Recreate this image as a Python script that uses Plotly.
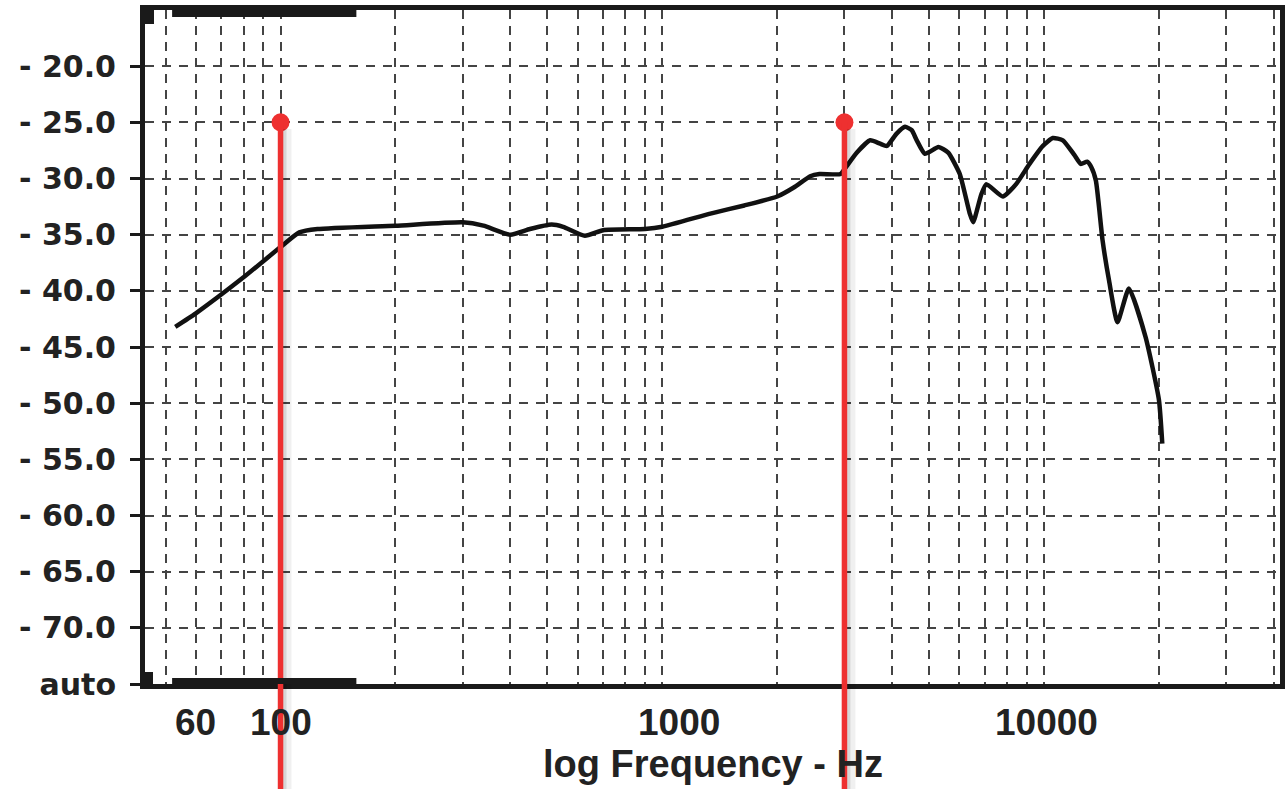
import math
import plotly.graph_objects as go

# ---------------- data ----------------
freq_hz = [53, 60, 80, 100, 112, 125, 200, 300, 340, 400, 450, 513, 550, 627, 700,
           900, 1000, 1345, 1640, 2000, 2210, 2440, 2580, 2930, 3010, 3230, 3505,
           3720, 3875, 4110, 4325, 4500, 4640, 4875, 5290, 5610, 6015, 6385, 6520,
           6850, 7060, 7800, 8450, 9160, 9930, 10540, 11200, 12000, 12480, 12970,
           13300, 13670, 14230, 14800, 15570, 16680, 18440, 19990, 20400]
level_db = [-43.2, -42.0, -38.8, -36.1, -34.8, -34.5, -34.2, -33.9, -34.2, -35.0,
            -34.5, -34.1, -34.3, -35.1, -34.6, -34.5, -34.3, -33.1, -32.4, -31.6,
            -30.8, -29.8, -29.6, -29.6, -29.1, -27.7, -26.6, -26.9, -27.1, -26.0,
            -25.4, -25.7, -26.6, -27.8, -27.2, -27.7, -29.6, -33.1, -33.9, -31.4,
            -30.5, -31.6, -30.5, -28.7, -27.1, -26.4, -26.6, -27.9, -28.7, -28.5,
            -29.0, -30.2, -35.5, -39.1, -42.8, -39.8, -44.1, -49.7, -53.6]

cursor_freqs = [100, 3000]
cursor_level = [-25, -25]

x_grid = [50, 60, 70, 80, 90, 100, 200, 300, 400, 500, 600, 700, 800, 900,
          1000, 2000, 3000, 4000, 5000, 6000, 7000, 8000, 9000, 10000,
          20000, 30000, 40000]
x_label_freqs = [60, 100, 1000, 10000]
x_label_text = ["60", "100", "1000", "10000"]

y_ticks = [-75, -70, -65, -60, -55, -50, -45, -40, -35, -30, -25, -20]
y_labels = ["auto", "- 70.0", "- 65.0", "- 60.0", "- 55.0", "- 50.0", "- 45.0",
            "- 40.0", "- 35.0", "- 30.0", "- 25.0", "- 20.0"]

x_title = "log Frequency - Hz"

# deco bar frequency span (top/bottom markers)
deco_span = [52, 158]

# ---------------- style constants ----------------
Y_RANGE = [-75, -15]
X_RANGE = [1.645, 4.618]
RED = "#ee3030"
FRAME = "#1a1a1a"
GRID = "#444444"
TEXT = "#222222"
ARIAL = "Liberation Sans, Arial, sans-serif"
LABEL_XSHIFT = {"60": 0, "100": 0, "1000": 17, "10000": 2}

fig = go.Figure()

fig.add_trace(go.Scatter(
    x=freq_hz, y=level_db, mode="lines",
    line=dict(color="#111111", width=4.5, shape="spline", smoothing=0.5),
    hoverinfo="skip", showlegend=False,
))

# cursor dots
fig.add_trace(go.Scatter(
    x=cursor_freqs, y=cursor_level, mode="markers",
    marker=dict(color=RED, size=18, line=dict(width=0)),
    cliponaxis=False, showlegend=False, hoverinfo="skip",
))

shapes = []
for f, lv in zip(cursor_freqs, cursor_level):
    top = (lv - Y_RANGE[0]) / (Y_RANGE[1] - Y_RANGE[0])
    shapes.append(dict(type="rect", xref="x", yref="paper", xsizemode="pixel",
                       xanchor=f, x0=2, x1=6, y0=-0.3, y1=top - 0.01,
                       fillcolor="rgba(0,0,0,0.16)", line=dict(width=0), layer="above"))
    shapes.append(dict(type="rect", xref="x", yref="paper", xsizemode="pixel",
                       xanchor=f, x0=6, x1=11, y0=-0.3, y1=top - 0.01,
                       fillcolor="rgba(0,0,0,0.06)", line=dict(width=0), layer="above"))
    shapes.append(dict(type="line", xref="x", yref="paper", x0=f, x1=f,
                       y0=-0.3, y1=top, line=dict(color=RED, width=5.5), layer="above"))

# decorative bars on top and bottom frame
shapes.append(dict(type="rect", xref="x", yref="paper", ysizemode="pixel",
                   x0=deco_span[0], x1=deco_span[1], yanchor=1, y0=-7, y1=0,
                   fillcolor=FRAME, line=dict(width=0), layer="above"))
shapes.append(dict(type="rect", xref="x", yref="paper", ysizemode="pixel",
                   x0=deco_span[0], x1=deco_span[1], yanchor=0, y0=0, y1=6,
                   fillcolor=FRAME, line=dict(width=0), layer="above"))
shapes.append(dict(type="rect", xref="paper", yref="paper", xsizemode="pixel",
                   ysizemode="pixel", xanchor=0, yanchor=1, x0=0, x1=9, y0=-14, y1=0,
                   fillcolor=FRAME, line=dict(width=0), layer="above"))
shapes.append(dict(type="rect", xref="paper", yref="paper", xsizemode="pixel",
                   ysizemode="pixel", xanchor=0, yanchor=0, x0=0, x1=8, y0=0, y1=12,
                   fillcolor=FRAME, line=dict(width=0), layer="above"))

# x tick labels (log axis annotations take log10 positions)
annotations = []
for f, t in zip(x_label_freqs, x_label_text):
    annotations.append(dict(
        x=math.log10(f), xref="x", y=0, yref="paper", yanchor="top",
        xanchor="center", yshift=-16, xshift=LABEL_XSHIFT[t], showarrow=False,
        text=t, font=dict(family=ARIAL, size=37, color=TEXT, weight="bold"),
    ))
annotations.append(dict(
    x=0.5, xref="paper", y=0, yref="paper", yanchor="top", xanchor="center",
    yshift=-57, showarrow=False, text=x_title,
    font=dict(family=ARIAL, size=38, color=TEXT, weight="bold"),
))

fig.update_layout(
    width=1288, height=789,
    margin=dict(l=145, r=3, t=10, b=105),
    paper_bgcolor="white", plot_bgcolor="white",
    shapes=shapes, annotations=annotations,
    showlegend=False,
)

fig.update_xaxes(
    type="log", range=X_RANGE,
    tickvals=x_grid, ticktext=["" for _ in x_grid],
    ticks="",
    showgrid=True, gridcolor=GRID, gridwidth=2, griddash="9px,7px",
    showline=True, linecolor=FRAME, linewidth=5, mirror=True,
    zeroline=False,
)

fig.update_yaxes(
    range=Y_RANGE,
    tickvals=y_ticks, ticktext=y_labels,
    ticks="outside", ticklen=10, tickwidth=3, tickcolor=FRAME,
    ticklabelstandoff=8,
    tickfont=dict(family="DejaVu Sans, sans-serif", size=30, color=TEXT, weight="bold"),
    showgrid=True, gridcolor=GRID, gridwidth=2, griddash="9px,8px",
    showline=True, linecolor=FRAME, linewidth=5, mirror=True,
    zeroline=False,
)

fig.write_html("out.html")
